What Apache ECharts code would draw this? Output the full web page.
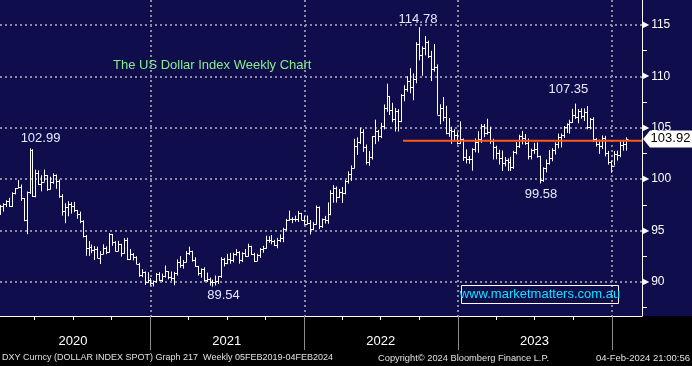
<!DOCTYPE html>
<html>
<head>
<meta charset="utf-8">
<script src="https://cdn.jsdelivr.net/npm/echarts@6/dist/echarts.min.js"></script>
<style>
html,body{margin:0;padding:0;background:#000;}
#c{width:692px;height:366px;}
</style>
</head>
<body>
<div id="c"></div>
<script>
// ---------- DATA (weekly DXY bars, week ending Friday) ----------
const firstWeekEnding = [2020, 0, 10]; // 10 Jan 2020, then one bar per week

const opens = [
  // 2020
  96.84,97.36,97.61,97.87,97.39,98.69,99.13,99.26,98.13,95.99,98.75,102.82,98.37,100.58,99.53,99.76,100.38,99.07,99.72,100.37,
  99.86,98.34,96.93,97.33,97.62,97.43,96.99,96.64,95.91,94.44,93.35,93.43,93.09,93.25,92.36,92.71,93.33,92.94,94.64,93.84,
  93.05,93.69,92.77,94.04,92.23,92.76,92.39,91.79,90.70,90.98,90.02,90.24,
  // 2021
  89.94,90.10,90.77,90.23,90.58,91.04,90.48,90.36,90.88,91.99,91.67,91.92,92.77,93.02,92.16,91.56,90.86,91.28,90.22,90.32,
  89.99,90.03,90.14,90.55,92.23,91.85,92.23,92.12,92.68,92.91,92.17,92.78,92.52,93.50,92.68,92.04,92.58,93.20,93.29,94.04,
  94.07,93.96,93.64,94.12,94.32,95.12,96.03,96.09,96.16,96.08,96.70,96.03,
  // 2022
  95.67,95.73,95.17,95.64,97.27,95.49,96.08,96.02,96.62,98.66,99.13,98.23,98.79,98.64,99.80,100.52,101.13,103.20,103.66,104.57,
  103.16,101.67,102.14,104.16,104.65,104.19,105.14,106.89,108.07,106.73,105.85,106.62,105.63,108.17,108.82,109.54,108.97,109.76,113.19,112.12,
  112.80,113.31,111.99,110.76,110.87,106.29,106.96,106.04,104.51,104.82,104.70,104.32,
  // 2023
  103.52,103.89,102.20,102.01,101.92,102.92,103.63,103.87,105.21,104.52,104.58,103.72,103.12,102.51,102.09,101.55,101.82,101.66,101.22,102.68,
  103.20,104.21,104.02,103.55,102.26,102.88,102.91,102.27,99.91,101.07,101.62,102.02,102.85,103.38,104.09,104.28,105.07,105.32,105.58,106.22,
  106.04,106.65,106.16,106.56,105.07,105.87,103.92,103.40,103.27,104.00,102.55,101.70,
  // 2024
  101.33,102.42,102.39,103.29,103.44
];
const highs = [
  97.50,97.66,97.95,98.19,98.72,99.13,99.91,99.48,98.16,98.80,102.99,102.92,100.93,100.86,100.38,100.93,100.41,100.24,100.56,100.46,
  99.97,98.54,97.65,97.86,97.76,97.80,97.01,96.84,96.00,94.57,93.99,93.64,93.49,93.44,92.99,93.66,93.47,94.74,94.67,93.97,
  94.00,93.71,94.26,94.30,93.21,92.80,92.50,91.86,91.24,91.02,90.95,90.38,
  90.14,90.88,90.95,90.81,91.60,91.05,91.02,90.98,92.19,92.51,92.14,93.00,93.44,93.04,92.40,91.56,91.32,91.43,90.91,90.43,
  90.23,90.63,90.57,92.41,92.35,92.74,92.83,92.84,93.19,92.99,92.88,93.20,93.73,93.52,92.84,92.75,93.29,93.52,94.50,94.45,
  94.56,94.09,94.29,94.63,95.27,96.14,96.94,96.29,96.45,96.91,96.72,96.45,
  96.46,96.03,95.82,97.44,97.34,96.16,96.43,97.74,98.93,99.42,99.29,99.04,99.24,99.91,100.76,101.34,103.93,104.07,105.01,104.85,
  103.37,102.73,104.19,105.79,104.79,105.48,107.27,109.29,108.08,107.43,106.93,106.81,108.27,109.14,110.02,110.79,110.29,113.33,114.78,112.92,
  113.92,113.48,112.49,113.15,111.16,107.29,107.99,107.13,105.95,105.10,104.87,104.56,
  105.63,103.95,102.90,102.25,103.00,103.96,104.67,105.36,105.36,105.88,105.11,103.93,103.26,102.87,102.80,102.15,102.02,102.18,102.76,103.63,
  104.32,104.70,104.40,103.95,102.97,103.54,103.58,102.28,101.15,101.92,102.84,103.01,103.58,104.44,104.44,105.16,105.43,105.78,106.84,107.35,
  106.82,106.89,106.89,107.11,105.96,106.02,103.99,103.84,104.26,104.22,102.75,101.82,
  102.73,102.77,103.69,103.82,104.07
];
const lows = [
  96.52,96.84,97.30,97.32,97.29,98.52,99.12,97.90,95.91,94.65,98.56,98.27,98.24,99.43,98.82,99.76,98.87,99.00,99.56,99.06,
  98.19,96.45,95.72,96.39,96.65,96.78,96.14,95.72,94.34,92.55,92.53,92.79,92.13,92.32,91.75,92.70,92.70,92.85,93.52,92.97,
  92.99,92.47,92.75,92.13,92.13,92.10,91.74,90.50,90.47,89.72,89.90,89.64,
  89.56,89.92,90.08,89.99,90.44,90.26,90.10,89.68,90.63,91.38,91.30,91.91,92.62,91.99,91.47,90.63,90.42,90.03,89.99,89.65,
  89.54,89.66,89.81,90.40,91.51,91.73,91.78,91.91,92.56,91.78,91.93,92.44,92.47,92.63,91.94,92.03,92.35,92.84,93.24,93.82,
  93.67,93.49,93.28,93.87,93.87,94.98,95.98,95.72,95.87,95.84,96.01,95.57,
  95.61,94.63,95.03,95.58,95.14,95.26,95.69,95.67,96.49,97.71,97.72,98.16,97.69,98.52,99.57,99.82,101.05,102.35,103.43,102.66,
  101.43,101.30,101.90,103.41,103.67,103.99,104.84,106.56,106.25,105.54,104.64,104.64,105.54,107.58,108.51,108.35,107.68,109.33,111.56,110.06,
  112.05,111.78,109.54,110.46,106.28,105.34,105.63,104.37,104.12,103.44,103.80,103.38,
  103.41,101.77,101.53,101.50,100.82,102.62,102.57,103.53,104.09,104.33,103.44,101.92,101.93,101.43,100.79,101.24,100.79,100.79,101.01,102.42,
  103.04,103.39,103.34,101.92,101.92,102.46,102.09,99.58,99.75,100.66,101.42,101.74,102.40,103.00,103.09,104.01,104.49,104.43,105.47,105.86,
  105.43,105.89,105.66,104.85,104.84,103.62,103.17,102.46,102.93,102.21,101.42,100.62,
  101.33,101.81,102.14,102.77,102.78
];
const closes = [
  97.36,97.61,97.87,97.39,98.69,99.13,99.26,98.13,95.99,98.75,102.82,98.37,100.58,99.53,99.76,100.38,99.07,99.72,100.37,99.86,
  98.34,96.93,97.33,97.62,97.43,96.99,96.64,95.91,94.44,93.35,93.43,93.09,93.25,92.36,92.71,93.33,92.94,94.64,93.84,93.05,
  93.69,92.77,94.04,92.23,92.76,92.39,91.79,90.70,90.98,90.02,90.24,89.94,
  90.10,90.77,90.23,90.58,91.04,90.48,90.36,90.88,91.99,91.67,91.92,92.77,93.02,92.16,91.56,90.86,91.28,90.22,90.32,89.99,
  90.03,90.14,90.55,92.23,91.85,92.23,92.12,92.68,92.91,92.17,92.78,92.52,93.50,92.68,92.04,92.58,93.20,93.29,94.04,94.07,
  93.96,93.64,94.12,94.32,95.12,96.03,96.09,96.16,96.08,96.70,96.03,95.67,
  95.73,95.17,95.64,97.27,95.49,96.08,96.02,96.62,98.66,99.13,98.23,98.79,98.64,99.80,100.52,101.13,103.20,103.66,104.57,103.16,
  101.67,102.14,104.16,104.65,104.19,105.14,106.89,108.07,106.73,105.85,106.62,105.63,108.17,108.82,109.54,108.97,109.76,113.19,112.12,112.80,
  113.31,111.99,110.76,110.87,106.29,106.96,106.04,104.51,104.82,104.70,104.32,103.52,
  103.89,102.20,102.01,101.92,102.92,103.63,103.87,105.21,104.52,104.58,103.72,103.12,102.51,102.09,101.55,101.82,101.66,101.22,102.68,103.20,
  104.21,104.02,103.55,102.26,102.88,102.91,102.27,99.91,101.07,101.62,102.02,102.85,103.38,104.09,104.28,105.07,105.32,105.58,106.22,106.04,
  106.65,106.16,106.56,105.07,105.87,103.92,103.40,103.27,104.00,102.55,101.70,101.33,
  102.42,102.39,103.29,103.44,103.92
];

// axis range and ticks
const axisStart = '2020-01-10';
const axisEnd = '2024-03-12';
const yearStarts = ['2021-01-01','2022-01-01','2023-01-01','2024-01-01'];
const quarterTicks = ['2020-04-01','2020-07-01','2020-10-01','2021-04-01','2021-07-01','2021-10-01',
                      '2022-04-01','2022-07-01','2022-10-01','2023-04-01','2023-07-01','2023-10-01'];
const yearLabelDates = ['2020-07-01','2021-07-01','2022-07-01','2023-07-01'];
const yearLabels = ['2020','2021','2022','2023'];
const priceMin = 86.69, priceMax = 117.43;
const priceTicks = [90, 95, 100, 105, 110, 115];
const minorPriceTicks = [87.5, 92.5, 97.5, 102.5, 107.5, 112.5];

// annotations
const annotationDates = ['2020-03-20','2022-09-30','2023-10-06','2023-07-14','2021-05-28'];
const annotationValues = [102.99, 114.78, 107.35, 99.58, 89.54];
const annotationSides = ['top','top','top','bottom','bottom'];

// horizontal level line
const levelValue = 103.75;
const levelFrom = '2022-08-23';
const lastPrice = closes[closes.length - 1];

const titleText = 'The US Dollar Index Weekly Chart';
const watermarkText = 'www.marketmatters.com.au';
const footerLeft = 'DXY Curncy (DOLLAR INDEX SPOT) Graph 217  Weekly 05FEB2019-04FEB2024';
const footerMid = 'Copyright\u00a9 2024 Bloomberg Finance L.P.';
const footerRight = '04-Feb-2024 21:00:56';

// ---------- helpers ----------
const T = s => { const p = s.split('-').map(Number); return +new Date(p[0], p[1] - 1, p[2]); };
const weekDates = closes.map((_, i) => +new Date(firstWeekEnding[0], firstWeekEnding[1], firstWeekEnding[2] + 7 * i));
const bars = weekDates.map((d, i) => [d, opens[i], highs[i], lows[i], closes[i]]);
const yearLabelTimes = yearLabelDates.map(T);

const FONT = '"Liberation Sans", Arial, sans-serif';
const NAVY = '#0f0d4b';
const GRID = '#8a8aa0';

// label placement style (pixel offsets only)
const annotationStyle = [
  {dx: 11, dist: 4}, {dx: -1, dist: 1}, {dx: -7, dist: 8}, {dx: 1, dist: 4}, {dx: 11, dist: 2}
];

const chart = echarts.init(document.getElementById('c'), null, {width: 692, height: 366});

chart.setOption({
  animation: false,
  backgroundColor: '#000',
  title: {
    text: titleText, left: 113, top: 58.5, padding: 0,
    textStyle: {color: '#8aee8a', fontSize: 13, fontWeight: 'normal', fontFamily: FONT}
  },
  grid: {left: 0, right: 50, top: 0, bottom: 50, containLabel: false},
  graphic: [
    {type: 'rect', z: -10, silent: true, shape: {x: 0, y: 0, width: 692, height: 316}, style: {fill: NAVY}},
    {type: 'rect', z: 10, silent: true, shape: {x: 461.5, y: 285.5, width: 157, height: 18},
     style: {fill: 'none', stroke: '#ffffff', lineWidth: 1}},
    {type: 'text', z: 10, silent: true, style: {text: watermarkText, x: 540, y: 294.5, fill: '#12e2ff',
     font: '13px ' + FONT, textAlign: 'center', textVerticalAlign: 'middle'}},
    {type: 'text', z: 10, silent: true, style: {text: footerLeft, x: 2, y: 358, fill: '#e0e0e0',
     font: '9px ' + FONT, textAlign: 'left', textVerticalAlign: 'middle'}},
    {type: 'text', z: 10, silent: true, style: {text: footerMid, x: 378, y: 358, fill: '#e0e0e0',
     font: '9.3px ' + FONT, textAlign: 'left', textVerticalAlign: 'middle'}},
    {type: 'text', z: 10, silent: true, style: {text: footerRight, x: 690, y: 358, fill: '#e0e0e0',
     font: '9.5px ' + FONT, textAlign: 'right', textVerticalAlign: 'middle'}}
  ],
  xAxis: [
    {
      type: 'value', min: T(axisStart), max: T(axisEnd), position: 'bottom', scale: true,
      axisLine: {show: true, onZero: false, lineStyle: {color: '#ffffff', width: 1}},
      axisTick: {show: true, customValues: quarterTicks.map(T), length: 4, lineStyle: {color: '#ffffff', width: 1}},
      axisLabel: {show: true, customValues: yearLabelTimes, margin: 19, color: '#ffffff', fontSize: 13, fontFamily: FONT,
        formatter: v => { const k = yearLabelTimes.indexOf(v); return k >= 0 ? yearLabels[k] : ''; }},
      splitLine: {show: false}
    },
    {
      type: 'value', min: T(axisStart), max: T(axisEnd), position: 'bottom', scale: true,
      axisLine: {show: false, onZero: false},
      axisTick: {show: true, customValues: yearStarts.map(T), length: 34, lineStyle: {color: '#8c8c8c', width: 1}},
      axisLabel: {show: false},
      splitLine: {show: true, lineStyle: {color: GRID, width: 2, type: [2, 3]}}
    }
  ],
  yAxis: [
    {
      type: 'value', position: 'right', min: priceMin, max: priceMax, scale: true,
      axisLine: {show: true, onZero: false, lineStyle: {color: '#ffffff', width: 1}},
      axisTick: {show: false, customValues: priceTicks},
      axisLabel: {show: true, customValues: priceTicks, margin: 1,
        formatter: v => '{t|\u25B6}{v|' + v + '}',
        rich: {
          t: {fontFamily: '"DejaVu Sans"', fontSize: 8, color: '#ffffff', padding: [0, 2, 0, 0]},
          v: {fontFamily: FONT, fontSize: 12, color: '#ffffff'}
        }},
      splitLine: {show: true, lineStyle: {color: GRID, width: 2, type: [2, 3]}}
    },
    {
      type: 'value', position: 'right', min: priceMin, max: priceMax, scale: true,
      axisLine: {show: false, onZero: false},
      axisTick: {show: true, customValues: minorPriceTicks, length: 5, lineStyle: {color: '#ffffff', width: 1}},
      axisLabel: {show: false},
      splitLine: {show: false}
    }
  ],
  series: [
    {
      type: 'custom', name: 'DXY', xAxisIndex: 0, yAxisIndex: 0, clip: true, z: 2,
      encode: {x: 0, y: [1, 2, 3, 4]},
      data: bars,
      renderItem: function (params, api) {
        const t = api.value(0);
        const o = api.coord([t, api.value(1)]);
        const h = api.coord([t, api.value(2)]);
        const l = api.coord([t, api.value(3)]);
        const c = api.coord([t, api.value(4)]);
        const x = Math.round(o[0]) + 0.5;
        const yo = Math.round(o[1]) + 0.5, yc = Math.round(c[1]) + 0.5;
        const st = {stroke: '#ffffff', lineWidth: 1};
        return {
          type: 'group',
          children: [
            {type: 'line', shape: {x1: x, y1: h[1], x2: x, y2: l[1]}, style: st},
            {type: 'line', shape: {x1: x - 2, y1: yo, x2: x, y2: yo}, style: st},
            {type: 'line', shape: {x1: x, y1: yc, x2: x + 2, y2: yc}, style: st}
          ]
        };
      },
      markPoint: {
        silent: true,
        symbol: 'circle', symbolSize: 0,
        itemStyle: {color: 'rgba(0,0,0,0)'},
        label: {show: true, color: '#e4eaff', fontSize: 13, fontFamily: FONT},
        data: annotationDates.map((d, i) => ({
          coord: [T(d), annotationValues[i]],
          value: annotationValues[i],
          label: {
            position: annotationSides[i], distance: annotationStyle[i].dist,
            offset: [annotationStyle[i].dx, 0],
            formatter: annotationValues[i].toFixed(2)
          }
        }))
      }
    },
    {
      type: 'line', name: 'level', xAxisIndex: 1, yAxisIndex: 1, z: 5, clip: false,
      symbol: 'none', silent: true,
      lineStyle: {color: '#ff5a1a', width: 2},
      data: [[T(levelFrom), levelValue], [T(axisEnd), levelValue]],
      markPoint: {
        silent: true,
        symbol: 'path://M0,8.5 L7,0 L49,0 L49,17 L7,17 Z',
        symbolSize: [49, 17], symbolKeepAspect: false,
        symbolOffset: [25.5, 0],
        itemStyle: {color: '#ffffff'},
        label: {show: true, position: 'inside', offset: [3, 0], color: '#000000', fontSize: 13, fontFamily: FONT,
          formatter: p => p.value.toFixed(2)},
        data: [{coord: [T(axisEnd), lastPrice], value: lastPrice}]
      }
    }
  ]
});
</script>
</body>
</html>
